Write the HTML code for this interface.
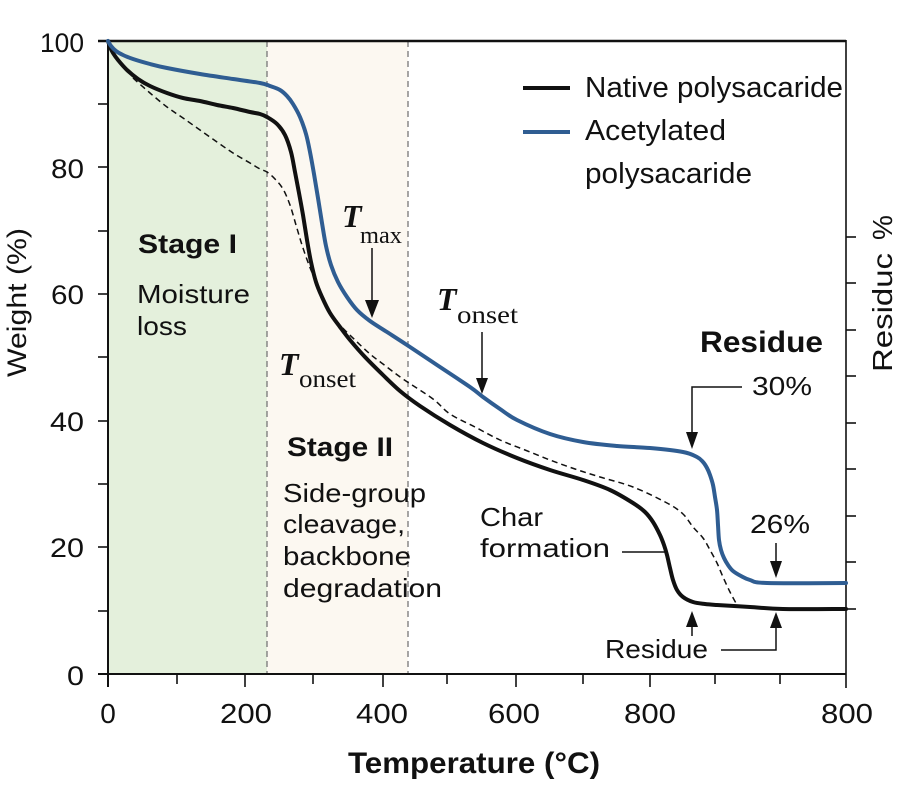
<!DOCTYPE html>
<html><head><meta charset="utf-8"><style>
html,body{margin:0;padding:0;background:#fff;}
svg{display:block;}
text{font-family:"Liberation Sans",sans-serif;fill:#111;}
.serif{font-family:"Liberation Serif",serif;}
</style></head><body>
<svg id="chart" width="902" height="799" viewBox="0 0 902 799" xmlns="http://www.w3.org/2000/svg">
<rect width="902" height="799" fill="#fff"/>
<!-- stage backgrounds -->
<rect x="108" y="41" width="159" height="633" fill="#e4f0dc"/>
<rect x="267" y="41" width="141" height="633" fill="#fcf8f1"/>
<line x1="267" y1="41" x2="267" y2="674" stroke="#777" stroke-width="1.3" stroke-dasharray="6,4"/>
<line x1="408" y1="41" x2="408" y2="674" stroke="#777" stroke-width="1.3" stroke-dasharray="6,4"/>

<!-- axes -->
<line x1="98" y1="41" x2="846" y2="41" stroke="#111" stroke-width="2.5"/>
<line x1="108" y1="41" x2="108" y2="687" stroke="#111" stroke-width="2"/>
<line x1="98" y1="674" x2="846" y2="674" stroke="#111" stroke-width="2"/>
<line x1="846" y1="40" x2="846" y2="688" stroke="#111" stroke-width="1.6"/>

<!-- y ticks -->
<g stroke="#111" stroke-width="1.6">
<line x1="98" y1="41" x2="108" y2="41"/><line x1="98" y1="104" x2="108" y2="104"/>
<line x1="98" y1="167" x2="108" y2="167"/><line x1="98" y1="231" x2="108" y2="231"/>
<line x1="98" y1="294" x2="108" y2="294"/><line x1="98" y1="357" x2="108" y2="357"/>
<line x1="98" y1="421" x2="108" y2="421"/><line x1="98" y1="484" x2="108" y2="484"/>
<line x1="98" y1="547" x2="108" y2="547"/><line x1="98" y1="611" x2="108" y2="611"/>
<line x1="98" y1="674" x2="108" y2="674"/>
<!-- x ticks -->
<line x1="177" y1="674" x2="177" y2="684"/><line x1="245" y1="674" x2="245" y2="687"/>
<line x1="313" y1="674" x2="313" y2="684"/><line x1="383" y1="674" x2="383" y2="687"/>
<line x1="447" y1="674" x2="447" y2="684"/><line x1="516" y1="674" x2="516" y2="687"/>
<line x1="583" y1="674" x2="583" y2="684"/><line x1="650" y1="674" x2="650" y2="687"/>
<line x1="715" y1="674" x2="715" y2="684"/><line x1="780" y1="674" x2="780" y2="684"/>
<!-- right ticks -->
<line x1="846" y1="237" x2="856" y2="237"/><line x1="846" y1="283" x2="856" y2="283"/>
<line x1="846" y1="330" x2="856" y2="330"/><line x1="846" y1="376" x2="856" y2="376"/>
<line x1="846" y1="423" x2="856" y2="423"/><line x1="846" y1="469" x2="856" y2="469"/>
<line x1="846" y1="516" x2="856" y2="516"/><line x1="846" y1="562" x2="856" y2="562"/>
<line x1="846" y1="609" x2="856" y2="609"/>
</g>

<!-- y tick labels -->
<g font-size="27" text-anchor="end">
<text x="84" y="52" textLength="44" lengthAdjust="spacingAndGlyphs">100</text>
<text x="84" y="178" textLength="33" lengthAdjust="spacingAndGlyphs">80</text>
<text x="84" y="304" textLength="33" lengthAdjust="spacingAndGlyphs">60</text>
<text x="84" y="431" textLength="34" lengthAdjust="spacingAndGlyphs">40</text>
<text x="84" y="557" textLength="34" lengthAdjust="spacingAndGlyphs">20</text>
<text x="84" y="685" textLength="17" lengthAdjust="spacingAndGlyphs">0</text>
</g>
<!-- x tick labels -->
<g font-size="28" text-anchor="middle">
<text x="108" y="723">0</text>
<text x="246" y="723" textLength="52" lengthAdjust="spacingAndGlyphs">200</text>
<text x="382" y="723" textLength="52" lengthAdjust="spacingAndGlyphs">400</text>
<text x="514" y="723" textLength="52" lengthAdjust="spacingAndGlyphs">600</text>
<text x="650" y="723" textLength="52" lengthAdjust="spacingAndGlyphs">800</text>
<text x="847" y="723" textLength="52" lengthAdjust="spacingAndGlyphs">800</text>
</g>

<!-- axis titles -->
<text x="348" y="773" font-size="30" font-weight="bold" textLength="252" lengthAdjust="spacingAndGlyphs">Temperature (°C)</text>
<text transform="translate(26,377) rotate(-90)" font-size="27" textLength="149" lengthAdjust="spacingAndGlyphs">Weight (%)</text>
<text transform="translate(892,372) rotate(-90)" font-size="28" textLength="119" lengthAdjust="spacingAndGlyphs">Residuc</text>
<text transform="translate(892,240) rotate(-90)" font-size="28">%</text>

<!-- dashed curve -->
<polyline class="smooth" fill="none" stroke="#111" stroke-width="1.5" stroke-dasharray="6,4" stroke-linejoin="round"
points="133,78 150,93 167,107 183,118 200,130 217,142 233,153 250,163 260,169 267,172 275,179 283,189 290,205 296,225 302,245 309,265 316,282 322,296 330,311 340,325 355,340 370,354 383,364 403,379 433,399 450,414 475,427 500,440 525,450 550,460 575,469 600,477 633,487 667,503 683,514 693,527 703,538 710,550 717,563 723,577 730,592 737,605"/>

<!-- black curve -->
<polyline class="smooth" fill="none" stroke="#111" stroke-width="4" stroke-linejoin="round" stroke-linecap="round"
points="108,41 110,47 113,53 118,60 127,70 138,79 150,86 167,93 183,98 200,101 217,105 233,108 250,112 260,114 267,117 277,124 285,135 291,152 295,172 299,193 303,215 307,240 311,262 316,282 322,297 330,313 340,327 350,340 365,357 383,375 400,391 420,406 450,425 483,443 517,458 550,470 583,480 610,490 633,503 645,512 653,522 660,535 664,545 667,555 670,568 673,580 677,590 683,597 693,602 705,604 717,605 750,607 783,609 846,609"/>

<!-- blue curve -->
<polyline class="smooth" fill="none" stroke="#2f5d92" stroke-width="4" stroke-linejoin="round" stroke-linecap="round"
points="108,41 111,46 116,51 123,55 133,59 150,64 167,68 200,74 233,79 260,83 270,86 280,90 287,96 293,104 300,117 306,134 310,152 314,174 318,198 322,223 326,246 331,265 338,282 347,297 357,310 370,321 387,332 407,345 437,365 470,387 483,397 500,409 517,420 550,434 583,442 617,446 650,448 683,452 697,457 703,462 707,468 710,475 713,485 715,497 717,510 718,525 719,540 721,550 724,558 728,565 733,571 741,576 750,580 767,583 846,583"/>

<!-- legend -->
<line x1="523" y1="88" x2="570" y2="88" stroke="#111" stroke-width="4"/>
<line x1="523" y1="132" x2="570" y2="132" stroke="#2f5d92" stroke-width="4"/>
<g font-size="29">
<text x="585" y="97" textLength="258" lengthAdjust="spacingAndGlyphs">Native polysacaride</text>
<text x="585" y="140" textLength="141" lengthAdjust="spacingAndGlyphs">Acetylated</text>
<text x="585" y="183" textLength="167" lengthAdjust="spacingAndGlyphs">polysacaride</text>
</g>

<!-- stage labels -->
<text x="138" y="253" font-size="27" font-weight="bold" textLength="99" lengthAdjust="spacingAndGlyphs">Stage I</text>
<g font-size="26">
<text x="137" y="303" textLength="113" lengthAdjust="spacingAndGlyphs">Moisture</text>
<text x="137" y="335" textLength="50" lengthAdjust="spacingAndGlyphs">loss</text>
</g>
<text x="287" y="456" font-size="27" font-weight="bold" textLength="106" lengthAdjust="spacingAndGlyphs">Stage II</text>
<g font-size="26">
<text x="283" y="502" textLength="143" lengthAdjust="spacingAndGlyphs">Side-group</text>
<text x="283" y="533" textLength="122" lengthAdjust="spacingAndGlyphs">cleavage,</text>
<text x="283" y="565" textLength="128" lengthAdjust="spacingAndGlyphs">backbone</text>
<text x="283" y="597" textLength="159" lengthAdjust="spacingAndGlyphs">degradation</text>
<text x="480" y="526" textLength="63" lengthAdjust="spacingAndGlyphs">Char</text>
<text x="480" y="557" textLength="130" lengthAdjust="spacingAndGlyphs">formation</text>
<text x="605" y="658" textLength="103" lengthAdjust="spacingAndGlyphs">Residue</text>
<text x="750" y="533" textLength="60" lengthAdjust="spacingAndGlyphs">26%</text>
<text x="752" y="395" textLength="60" lengthAdjust="spacingAndGlyphs">30%</text>
</g>
<text x="700" y="352" font-size="30" font-weight="bold" textLength="123" lengthAdjust="spacingAndGlyphs">Residue</text>

<!-- T labels -->
<text class="serif" x="342" y="227" font-size="32" font-style="italic" font-weight="bold">T</text>
<text class="serif" x="360" y="243" font-size="24" textLength="42" lengthAdjust="spacingAndGlyphs">max</text>
<text class="serif" x="437" y="310" font-size="32" font-style="italic" font-weight="bold">T</text>
<text class="serif" x="457" y="323" font-size="25" textLength="61" lengthAdjust="spacingAndGlyphs">onset</text>
<text class="serif" x="279" y="375" font-size="32" font-style="italic" font-weight="bold">T</text>
<text class="serif" x="299" y="387" font-size="25" textLength="57" lengthAdjust="spacingAndGlyphs">onset</text>

<!-- arrows -->
<g stroke="#111" stroke-width="1.5" fill="none">
<line x1="372" y1="248" x2="372" y2="304"/>
<line x1="482" y1="332" x2="482" y2="380"/>
<polyline points="742,387 692,387 692,434"/>
<line x1="776" y1="543" x2="776" y2="563"/>
<line x1="622" y1="552" x2="667" y2="552"/>
<line x1="692" y1="636" x2="692" y2="624"/>
<polyline points="721,650 776,650 776,625"/>
</g>
<g fill="#111">
<polygon points="365,300 379,300 372,318"/>
<polygon points="476,378 488,378 482,394"/>
<polygon points="686,432 698,432 692,449"/>
<polygon points="770,561 782,561 776,578"/>
<polygon points="686,627 698,627 692,611"/>
<polygon points="770,628 782,628 776,612"/>
</g>
</svg>
<script>
(function(){
  var NS='http://www.w3.org/2000/svg';
  var list=document.querySelectorAll('polyline.smooth');
  for(var k=0;k<list.length;k++){
    var pl=list[k];
    var pts=pl.getAttribute('points').trim().split(/\s+/).map(function(p){return p.split(',').map(Number);});
    var d='M'+pts[0][0]+','+pts[0][1];
    var t=1/6;
    for(var i=0;i<pts.length-1;i++){
      var p0=pts[i-1]||pts[i], p1=pts[i], p2=pts[i+1], p3=pts[i+2]||p2;
      var c1x=p1[0]+(p2[0]-p0[0])*t, c1y=p1[1]+(p2[1]-p0[1])*t;
      var c2x=p2[0]-(p3[0]-p1[0])*t, c2y=p2[1]-(p3[1]-p1[1])*t;
      d+=' C'+c1x.toFixed(2)+','+c1y.toFixed(2)+' '+c2x.toFixed(2)+','+c2y.toFixed(2)+' '+p2[0]+','+p2[1];
    }
    var path=document.createElementNS(NS,'path');
    var attrs=['fill','stroke','stroke-width','stroke-dasharray','stroke-linejoin','stroke-linecap'];
    for(var a=0;a<attrs.length;a++){var v=pl.getAttribute(attrs[a]); if(v!==null) path.setAttribute(attrs[a],v);}
    path.setAttribute('d',d);
    pl.parentNode.replaceChild(path,pl);
  }
})();
</script>
</body></html>
